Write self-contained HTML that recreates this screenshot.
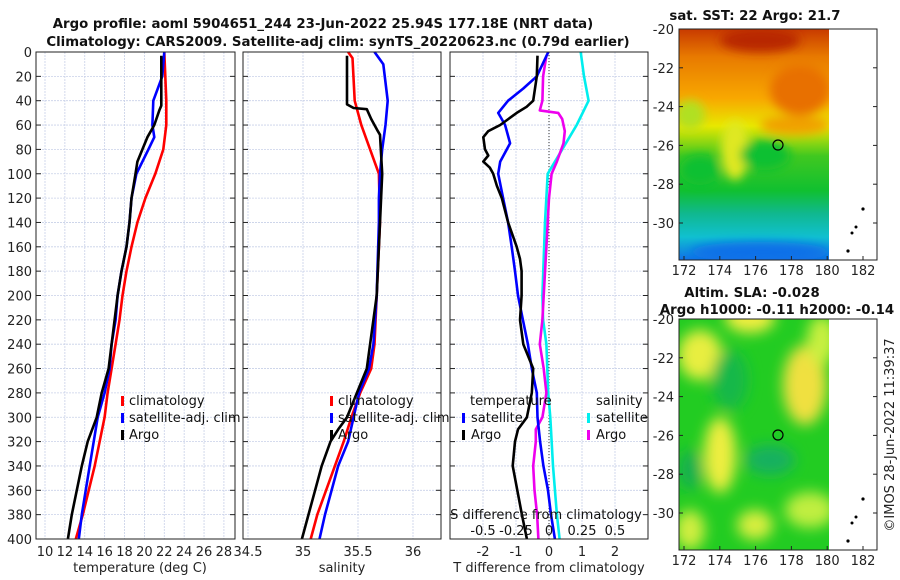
<!DOCTYPE html>
<html><head><meta charset="utf-8"><style>
body{margin:0;background:#fff}
svg{display:block;font-family:"DejaVu Sans","Liberation Sans",sans-serif}
</style></head><body>
<svg id="c" width="900" height="580" viewBox="0 0 900 580">
<defs>
<filter id="bl" x="-20%" y="-20%" width="140%" height="140%"><feGaussianBlur stdDeviation="5"/></filter>
<filter id="bl2" x="-30%" y="-30%" width="160%" height="160%"><feGaussianBlur stdDeviation="7"/></filter>
<clipPath id="cm1"><rect x="679" y="29" width="150" height="231"/></clipPath>
<clipPath id="cm2"><rect x="679" y="319" width="150" height="231"/></clipPath>
<linearGradient id="sst" x1="0" y1="0" x2="0" y2="1">
<stop offset="0" stop-color="#c83a00"/><stop offset="0.12" stop-color="#e87a00"/><stop offset="0.3" stop-color="#f8a800"/>
<stop offset="0.42" stop-color="#e8e800"/><stop offset="0.55" stop-color="#40c820"/><stop offset="0.7" stop-color="#10c030"/>
<stop offset="0.8" stop-color="#10b890"/><stop offset="0.9" stop-color="#10c0d0"/><stop offset="1" stop-color="#1070e8"/>
</linearGradient>
</defs>
<g id="titles" font-weight="bold" font-size="13.3" text-anchor="middle" fill="#111">
<text x="323" y="28">Argo profile: aoml 5904651_244 23-Jun-2022 25.94S 177.18E (NRT data)</text>
<text x="338" y="46">Climatology: CARS2009. Satellite-adj clim: synTS_20220623.nc (0.79d earlier)</text>
<text x="755" y="20">sat. SST: 22 Argo: 21.7</text>
<text x="752" y="297">Altim. SLA: -0.028</text>
<text x="777" y="314">Argo h1000: -0.11 h2000: -0.14</text>
</g>
<g id="grid"></g>
<g id="lines"></g>
<g id="axes"></g>
<g id="maps">
<g clip-path="url(#cm1)">
<rect x="679" y="29" width="150" height="231" fill="url(#sst)"/>
<g filter="url(#bl)">
<ellipse cx="760" cy="40" rx="40" ry="12" fill="#b82800"/>
<ellipse cx="800" cy="90" rx="30" ry="25" fill="#e87000"/>
<ellipse cx="795" cy="125" rx="35" ry="10" fill="#f0a000"/>
<ellipse cx="735" cy="150" rx="14" ry="30" fill="#e0e820"/>
<ellipse cx="765" cy="155" rx="25" ry="15" fill="#10c030"/>
<ellipse cx="700" cy="170" rx="20" ry="15" fill="#10c030"/>
<ellipse cx="690" cy="115" rx="15" ry="15" fill="#b0e020"/>
<ellipse cx="760" cy="252" rx="70" ry="10" fill="#1070e8"/>
</g>
</g>
<g clip-path="url(#cm2)">
<rect x="679" y="319" width="150" height="231" fill="#22cc22"/>
<g filter="url(#bl2)">
<ellipse cx="700" cy="355" rx="22" ry="25" fill="#e8ee40"/>
<ellipse cx="750" cy="318" rx="25" ry="15" fill="#f0ee40"/>
<ellipse cx="805" cy="385" rx="22" ry="40" fill="#f0e040"/>
<ellipse cx="822" cy="340" rx="15" ry="25" fill="#c8f040"/>
<ellipse cx="720" cy="455" rx="16" ry="38" fill="#eeee40"/>
<ellipse cx="690" cy="530" rx="15" ry="20" fill="#d0ee40"/>
<ellipse cx="755" cy="525" rx="18" ry="15" fill="#d8ee40"/>
<ellipse cx="810" cy="510" rx="25" ry="18" fill="#c0ee40"/>
<ellipse cx="770" cy="460" rx="25" ry="15" fill="#14b060"/>
<ellipse cx="690" cy="470" rx="12" ry="20" fill="#18b050"/>
<ellipse cx="730" cy="380" rx="18" ry="30" fill="#14b848"/>
</g>
</g>
<g fill="#000">
<circle cx="863" cy="209" r="1.6"/><circle cx="856" cy="227" r="1.5"/><circle cx="852" cy="233" r="1.5"/><circle cx="848" cy="251" r="1.6"/>
<circle cx="863" cy="499" r="1.6"/><circle cx="856" cy="517" r="1.5"/><circle cx="852" cy="523" r="1.5"/><circle cx="848" cy="541" r="1.6"/>
</g>
<circle cx="778" cy="145" r="5" fill="none" stroke="#000" stroke-width="1.2"/>
<circle cx="778" cy="435" r="5" fill="none" stroke="#000" stroke-width="1.2"/>
<rect x="679" y="29" width="198" height="231" fill="none" stroke="#222"/>
<rect x="679" y="319" width="198" height="231" fill="none" stroke="#222"/>
<text transform="translate(894,435) rotate(-90)" font-size="13" text-anchor="middle" fill="#222">©IMOS 28-Jun-2022 11:39:37</text>
</g>
<g id="legends" font-size="13" fill="#111">
<rect x="121" y="396" width="3" height="10" fill="#f00"/><text x="129" y="405">climatology</text>
<rect x="121" y="413" width="3" height="10" fill="#00f"/><text x="129" y="422">satellite-adj. clim</text>
<rect x="121" y="430" width="3" height="10" fill="#000"/><text x="129" y="439">Argo</text>
<rect x="330" y="396" width="3" height="10" fill="#f00"/><text x="338" y="405">climatology</text>
<rect x="330" y="413" width="3" height="10" fill="#00f"/><text x="338" y="422">satellite-adj. clim</text>
<rect x="330" y="430" width="3" height="10" fill="#000"/><text x="338" y="439">Argo</text>
<text x="470" y="405">temperature</text>
<rect x="462" y="413" width="3" height="10" fill="#00f"/><text x="471" y="422">satellite</text>
<rect x="462" y="430" width="3" height="10" fill="#000"/><text x="471" y="439">Argo</text>
<text x="596" y="405">salinity</text>
<rect x="587" y="413" width="3" height="10" fill="#0ee"/><text x="596" y="422">satellite</text>
<rect x="587" y="430" width="3" height="10" fill="#e0e"/><text x="596" y="439">Argo</text>
<text x="546" y="519" text-anchor="middle">S difference from climatology</text>
</g>
</svg>
<script>
// ---- data ----
const depthsClimT = [0,20,40,60,80,100,120,140,160,180,200,220,240,260,280,300,340,380,400];
const climT = [22.0,22.1,22.2,22.2,21.9,21.1,20.1,19.3,18.7,18.2,17.8,17.5,17.1,16.7,16.3,16.0,15.0,13.8,13.1];
const depthsSatT = [0,20,40,60,70,80,100,120,140,160,180,200,220,240,260,280,300,340,380,400];
const satT = [22.0,21.8,20.9,20.8,21.0,20.4,19.2,18.7,18.5,18.2,17.7,17.3,17.1,16.7,16.5,16.0,15.3,14.5,13.7,13.4];
const depthsArgoT = [3,44,48,60,70,80,90,100,120,140,160,180,200,220,240,260,280,300,320,340,360,380,400];
const argoT = [21.7,21.7,21.5,21.0,20.3,19.8,19.3,19.1,18.7,18.5,18.2,17.7,17.3,17.0,16.7,16.4,15.7,15.2,14.3,13.7,13.2,12.7,12.3];
const depthsClimS = [0,5,40,60,80,100,140,200,240,260,280,300,320,340,380,400];
const climS = [35.41,35.45,35.47,35.53,35.61,35.69,35.70,35.67,35.65,35.62,35.52,35.44,35.37,35.29,35.13,35.07];
const depthsSatS = [0,10,40,60,80,100,120,140,200,240,260,280,300,320,340,360,380,400];
const satS = [35.65,35.73,35.77,35.75,35.72,35.70,35.69,35.69,35.67,35.64,35.60,35.51,35.46,35.41,35.32,35.26,35.20,35.15];
const depthsArgoS = [3,43,46,47,55,65,68,100,120,200,260,280,300,310,320,340,360,380,400];
const argoS = [35.40,35.40,35.46,35.58,35.62,35.68,35.70,35.72,35.71,35.67,35.58,35.49,35.40,35.32,35.25,35.17,35.11,35.05,34.99];
const depthsDT = [0,20,30,40,50,60,75,90,100,120,140,160,180,200,220,240,260,280,300,320,340,360,380,400];
const satDT = [-0.02,-0.37,-0.78,-1.24,-1.54,-1.33,-1.18,-1.48,-1.54,-1.39,-1.24,-1.13,-1.03,-0.94,-0.79,-0.64,-0.52,-0.37,-0.35,-0.27,-0.17,-0.03,0.06,0.18];
const depthsArgoDT = [3,20,40,45,50,55,60,65,70,80,85,90,95,100,110,120,140,160,170,180,200,220,240,260,280,300,310,320,340,360,380,400];
const argoDT = [-0.35,-0.37,-0.48,-0.68,-0.98,-1.23,-1.48,-1.84,-1.99,-1.94,-1.84,-1.99,-1.79,-1.69,-1.58,-1.43,-1.24,-0.98,-0.88,-0.83,-0.83,-0.88,-0.78,-0.48,-0.52,-0.67,-0.94,-1.03,-1.10,-0.96,-0.82,-0.67];
const depthsSatDS = [0,20,40,60,80,100,140,200,220,240,280,300,340,380,400];
const satDS = [0.24,0.265,0.30,0.21,0.10,-0.01,-0.03,-0.05,-0.045,-0.02,-0.006,0.01,0.03,0.06,0.08];
const depthsArgoDS = [3,20,40,48,50,55,65,75,90,100,120,160,200,220,240,260,280,300,310,320,340,360,380,400];
const argoDS = [-0.02,-0.045,-0.05,-0.07,0.07,0.10,0.12,0.11,0.06,0.02,0.0,-0.02,-0.04,-0.05,-0.07,-0.04,-0.02,-0.05,-0.10,-0.10,-0.12,-0.11,-0.09,-0.08];
const depthTicks = [0,20,40,60,80,100,120,140,160,180,200,220,240,260,280,300,320,340,360,380,400];
const tTicks = [10,12,14,16,18,20,22,24,26,28];
const sTicks = [34.5,35,35.5,36];
const dTTicks = [-2,-1,0,1,2];
const dSTicks = [-0.5,-0.25,0,0.25,0.5];
const dSTickLabels = ["-0.5","-0.25","0","0.25","0.5"];
const latTicks = [-20,-22,-24,-26,-28,-30];
const lonTicks = [172,174,176,178,180,182];
// ---- scales ----
const TOP=52, BOT=539;
const yD = d => TOP + d*(BOT-TOP)/400;
const P1={l:36,r:235}, P2={l:243,r:441}, P3={l:450,r:648};
const xT = t => 45 + (t-10)*9.94;
const xS = s => 303 + (s-35)*110;
const xDT = t => 549 + t*33;
const xDS = s => 549 + s*132;
const NS="http://www.w3.org/2000/svg";
function mk(tag, attrs, parent){const e=document.createElementNS(NS,tag);for(const k in attrs)e.setAttribute(k,attrs[k]);parent.appendChild(e);return e;}
const G=document.getElementById('grid'), L=document.getElementById('lines'), A=document.getElementById('axes');
const panels=[[P1,tTicks,xT],[P2,sTicks,xS],[P3,dTTicks,xDT]];
panels.forEach(([p,ticks,fx],i)=>{
  depthTicks.forEach(d=>{const ln=mk('line',{x1:p.l,x2:p.r,y1:yD(d),y2:yD(d),stroke:'#c8d0e8','stroke-width':0.8,'stroke-dasharray':'2,1'},G);
    
    
    mk('line',{x1:p.l,x2:p.l+5,y1:yD(d),y2:yD(d),stroke:'#222'},A);mk('line',{x1:p.r-5,x2:p.r,y1:yD(d),y2:yD(d),stroke:'#222'},A);});
  ticks.forEach(t=>{const x=fx(t);const ln=mk('line',{x1:x,x2:x,y1:TOP,y2:BOT,stroke:'#c8d0e8','stroke-width':0.8,'stroke-dasharray':'2,1'},G);
    
    
    const tx=mk('text',{x:x,y:556,'font-size':13,'text-anchor':'middle',fill:'#222'},A);tx.textContent=String(t);
    
    });
  const fr=mk('rect',{x:p.l,y:TOP,width:p.r-p.l,height:BOT-TOP,fill:'none',stroke:'#222'},A);
  
  
});
depthTicks.forEach(d=>{const t=mk('text',{x:32,y:yD(d)+5,'font-size':13,'text-anchor':'end',fill:'#222'},A);t.textContent=String(d);
  
  });
dSTicks.forEach((s,i)=>{const t=mk('text',{x:xDS(s),y:535,'font-size':13,'text-anchor':'middle',fill:'#111'},A);t.textContent=dSTickLabels[i];
  
  });
[[140,'temperature (deg C)','x-axis-title-temperature'],[342,'salinity','x-axis-title-salinity'],[549,'T difference from climatology','x-axis-title-t-difference']].forEach(([x,s,n])=>{
  const t=mk('text',{x:x,y:572,'font-size':13,'text-anchor':'middle',fill:'#222'},A);t.textContent=s;
  
  });
const z=mk('line',{x1:549,x2:549,y1:TOP,y2:BOT,stroke:'#333','stroke-width':1,'stroke-dasharray':'1,2'},G);


function series(ds,vs,fx,col,name){
  const pts=ds.map((d,i)=>fx(vs[i]).toFixed(1)+','+yD(d).toFixed(1)).join(' ');
  const pl=mk('polyline',{points:pts,fill:'none',stroke:col,'stroke-width':2.6,'stroke-linejoin':'round'},L);
  
  
}
series(depthsClimT,climT,xT,'#f00','climatology-temperature-line');
series(depthsSatT,satT,xT,'#00f','satellite-temperature-line');
series(depthsArgoT,argoT,xT,'#000','argo-temperature-line');
series(depthsClimS,climS,xS,'#f00','climatology-salinity-line');
series(depthsSatS,satS,xS,'#00f','satellite-salinity-line');
series(depthsArgoS,argoS,xS,'#000','argo-salinity-line');
series(depthsSatDS,satDS,xDS,'#0ee','satellite-salinity-diff-line');
series(depthsArgoDS,argoDS,xDS,'#e0e','argo-salinity-diff-line');
series(depthsDT,satDT,xDT,'#00f','satellite-temperature-diff-line');
series(depthsArgoDT,argoDT,xDT,'#000','argo-temperature-diff-line');
// map axes
const M=document.getElementById('maps');
[[29,19.4,275],[319,19.4,565]].forEach(([top,sc,ly])=>{
  latTicks.forEach(la=>{const y=top+(-20-la)*sc;
    mk('line',{x1:679,x2:683,y1:y,y2:y,stroke:'#222'},M);mk('line',{x1:873,x2:877,y1:y,y2:y,stroke:'#222'},M);
    const t=mk('text',{x:674,y:y+5,'font-size':13,'text-anchor':'end',fill:'#222'},M);t.textContent=String(la);
    
    });
  lonTicks.forEach(lo=>{const x=684+(lo-172)*17.9;
    mk('line',{x1:x,x2:x,y1:top+231,y2:top+227,stroke:'#222'},M);
    const t=mk('text',{x:x,y:ly,'font-size':13,'text-anchor':'middle',fill:'#222'},M);t.textContent=String(lo);
    
    });
});
</script>
</body></html>
